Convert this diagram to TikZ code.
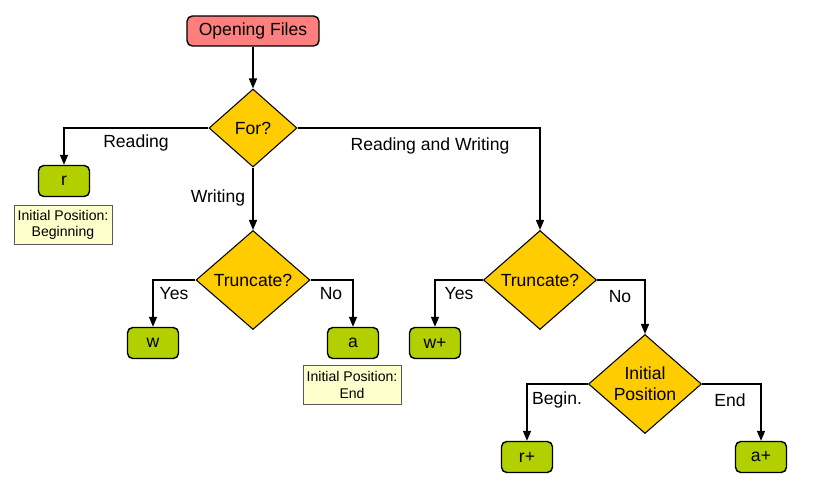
\documentclass[tikz,border=0pt]{standalone}
\usepackage{fontspec}
\setmainfont{Liberation Sans}
\usetikzlibrary{shapes.geometric,arrows.meta}
\definecolor{salmon}{HTML}{FF7F7F}
\definecolor{gold}{HTML}{FFCC00}
\definecolor{lime}{HTML}{B2D000}
\definecolor{notefill}{HTML}{FFFFCC}
\begin{document}
\begin{tikzpicture}[x=0.02cm, y=-0.02cm, font=\fontsize{10}{12}\selectfont,
  start/.style={rectangle, rounded corners=3pt, draw, line width=0.8pt, fill=salmon, minimum width=2.64cm, minimum height=0.6cm},
  mode/.style={rectangle, rounded corners=3pt, draw, line width=0.8pt, fill=lime, minimum width=1.02cm, minimum height=0.62cm},
  question/.style={diamond, draw, line width=0.6pt, fill=gold, inner sep=0pt, align=center},
  note/.style={rectangle, draw=black!65, line width=0.4pt, fill=notefill, minimum width=1.96cm, minimum height=0.78cm, inner sep=1pt, align=center, font=\fontsize{8}{9.5}\selectfont},
  flow/.style={-{Triangle[length=2mm,width=1.6mm]}, line width=0.8pt}]
\useasboundingbox (0,0) rectangle (814,484);
\node[start] (open) at (253,31) {Opening Files};
\node[question, minimum width=1.76cm, minimum height=1.56cm] (for) at (253,128) {For?};
\node[mode] (r) at (64,181) {r};
\node[note] (rnote) at (63,225) {Initial Position:\\Beginning};
\node[question, minimum width=2.28cm, minimum height=1.98cm] (truncw) at (253,280) {Truncate?};
\node[mode] (w) at (153,343) {w};
\node[mode] (a) at (353,343) {a};
\node[note] (anote) at (352,385) {Initial Position:\\End};
\node[question, minimum width=2.26cm, minimum height=1.98cm] (truncrw) at (540,280) {Truncate?};
\node[mode] (wplus) at (435,343) {w+};
\node[question, minimum width=2.26cm, minimum height=1.98cm] (pos) at (645,384) {Initial\\Position};
\node[mode] (rplus) at (527,457) {r+};
\node[mode] (aplus) at (761,457) {a+};
% branch labels
\node (lreading) at (136,143) {Reading};
\node (lwriting) at (218,198) {Writing};
\node (lboth) at (430,146) {Reading and Writing};
\node (lyesw) at (174,294) {Yes};
\node (lnow) at (331,294) {No};
\node (lyesrw) at (459,294) {Yes};
\node (lnorw) at (620,297) {No};
\node (lbegin) at (557,400) {Begin.};
\node (lend) at (730,400) {End};
% connectors
\draw[flow] (open) -- (for);
\draw[flow] (for.west) -| (r.north);
\draw[flow] (for.south) -- (truncw.north);
\draw[flow] (for.east) -| (truncrw.north);
\draw[flow] (truncw.west) -| (w.north);
\draw[flow] (truncw.east) -| (a.north);
\draw[flow] (truncrw.west) -| (wplus.north);
\draw[flow] (truncrw.east) -| (pos.north);
\draw[flow] (pos.west) -| (rplus.north);
\draw[flow] (pos.east) -| (aplus.north);
\end{tikzpicture}
\end{document}
